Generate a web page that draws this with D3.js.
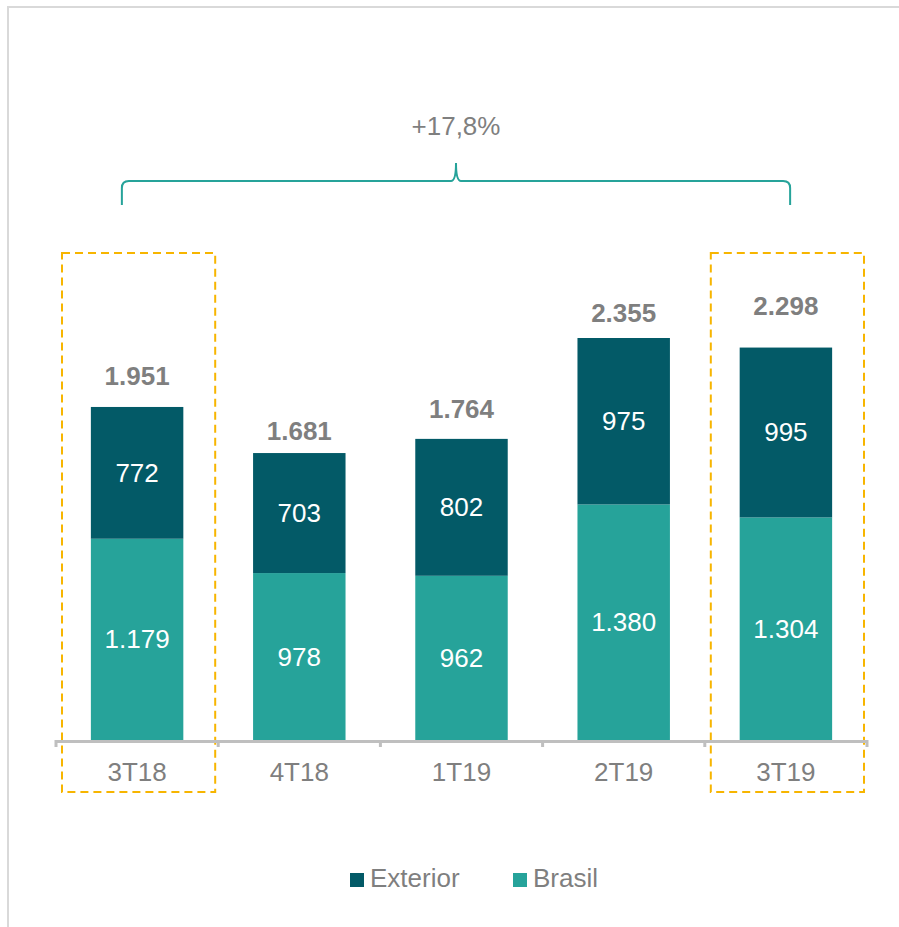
<!DOCTYPE html>
<html>
<head>
<meta charset="utf-8">
<script src="https://cdn.jsdelivr.net/npm/d3@7"></script>
<style>
  body { margin: 0; background: #fff; }
  svg { display: block; font-family: "Liberation Sans", Arial, sans-serif; }
</style>
</head>
<body>
<div id="chart"></div>
<script>
// chart data
var quarters = ["3T18", "4T18", "1T19", "2T19", "3T19"];
var brasil = [1179, 978, 962, 1380, 1304];
var exterior = [772, 703, 802, 975, 995];
var totals = [1951, 1681, 1764, 2355, 2298];
var highlighted = ["3T18", "3T19"];
var growthLabel = "+17,8%";

// total labels were placed by hand in the original, gap above each bar
var totalGap = [22, 13, 21, 16, 33];

var svgWidth = 899;
var svgHeight = 927;

var colorExterior = "#035a67";
var colorBrasil = "#26a39a";
var gray = "#7f7f7f";

var svg = d3.select("#chart")
  .append("svg")
  .attr("width", svgWidth)
  .attr("height", svgHeight);

// light frame
svg.append("path")
  .attr("d", "M8,927 L8,7 L899,7")
  .attr("fill", "none")
  .attr("stroke", "#d9d9d9")
  .attr("stroke-width", 2);

var baseY = 740;

var x = d3.scaleBand()
  .domain(quarters)
  .range([56, 867])
  .paddingInner(0.43)
  .paddingOuter(0.215);

var y = d3.scaleLinear()
  .domain([0, 2355])
  .range([baseY, baseY - 402]);

var fmt = function(v) {
  return d3.format(",")(v).replace(/,/g, ".");
};

var rows = quarters.map(function(q, i) {
  return { q: q, brasil: brasil[i], exterior: exterior[i], total: totals[i], gap: totalGap[i] };
});

var step = x.step();
var bandStart = function(q) { return x(q) - x.paddingInner() * step / 2; };

// dashed highlight boxes
svg.selectAll(".hl")
  .data(highlighted)
  .enter()
  .append("rect")
  .attr("class", "hl")
  .attr("x", d => bandStart(d) + 6)
  .attr("y", 253)
  .attr("width", step - 9)
  .attr("height", 539)
  .attr("fill", "none")
  .attr("stroke", "#f7b500")
  .attr("stroke-width", 2)
  .attr("stroke-dasharray", "8,5");

// Brasil segment
svg.selectAll(".brasil")
  .data(rows)
  .enter()
  .append("rect")
  .attr("class", "brasil")
  .attr("x", d => x(d.q))
  .attr("y", d => y(d.brasil))
  .attr("width", x.bandwidth())
  .attr("height", d => baseY - y(d.brasil))
  .attr("fill", colorBrasil);

// Exterior segment
svg.selectAll(".exterior")
  .data(rows)
  .enter()
  .append("rect")
  .attr("class", "exterior")
  .attr("x", d => x(d.q))
  .attr("y", d => y(d.brasil + d.exterior))
  .attr("width", x.bandwidth())
  .attr("height", d => y(d.brasil) - y(d.brasil + d.exterior))
  .attr("fill", colorExterior);

// values inside bars
svg.selectAll(".lblB")
  .data(rows)
  .enter()
  .append("text")
  .attr("x", d => x(d.q) + x.bandwidth() / 2)
  .attr("y", d => (baseY + y(d.brasil)) / 2 + 9)
  .attr("text-anchor", "middle")
  .attr("fill", "#fff")
  .style("font-size", "26px")
  .text(d => fmt(d.brasil));

svg.selectAll(".lblE")
  .data(rows)
  .enter()
  .append("text")
  .attr("x", d => x(d.q) + x.bandwidth() / 2)
  .attr("y", d => (y(d.brasil) + y(d.brasil + d.exterior)) / 2 + 9)
  .attr("text-anchor", "middle")
  .attr("fill", "#fff")
  .style("font-size", "26px")
  .text(d => fmt(d.exterior));

// totals
svg.selectAll(".lblT")
  .data(rows)
  .enter()
  .append("text")
  .attr("x", d => x(d.q) + x.bandwidth() / 2)
  .attr("y", d => y(d.total) - d.gap)
  .attr("text-anchor", "middle")
  .attr("fill", gray)
  .style("font-size", "26px")
  .style("font-weight", "bold")
  .text(d => fmt(d.total));

// x axis
var axis = svg.append("g");
axis.append("line")
  .attr("x1", 55).attr("x2", 868)
  .attr("y1", baseY + 1.5).attr("y2", baseY + 1.5)
  .attr("stroke", "#bfbfbf")
  .attr("stroke-width", 3);

var tickXs = quarters.map(bandStart).concat([bandStart(quarters[quarters.length - 1]) + step]);
axis.selectAll(".tick")
  .data(tickXs)
  .enter()
  .append("line")
  .attr("x1", d => d).attr("x2", d => d)
  .attr("y1", baseY).attr("y2", baseY + 7)
  .attr("stroke", "#bfbfbf")
  .attr("stroke-width", 3);

axis.selectAll(".cat")
  .data(quarters)
  .enter()
  .append("text")
  .attr("x", d => x(d) + x.bandwidth() / 2)
  .attr("y", 781)
  .attr("text-anchor", "middle")
  .attr("fill", gray)
  .style("font-size", "26px")
  .text(d => d);

// growth brace
var bx1 = x(quarters[0]) + 31, bx2 = x(quarters[4]) + x.bandwidth() - 42;
var bmid = (bx1 + bx2) / 2;
var by = 181;
svg.append("path")
  .attr("d", `M${bx1},205 L${bx1},188 Q${bx1},${by} ${bx1 + 7},${by} L${bmid - 5},${by} Q${bmid},${by} ${bmid},163 Q${bmid},${by} ${bmid + 5},${by} L${bx2 - 7},${by} Q${bx2},${by} ${bx2},188 L${bx2},205`)
  .attr("fill", "none")
  .attr("stroke", "#26a39a")
  .attr("stroke-width", 2);

svg.append("text")
  .attr("x", bmid)
  .attr("y", 135)
  .attr("text-anchor", "middle")
  .attr("fill", gray)
  .style("font-size", "26px")
  .text(growthLabel);

// legend
var legendItems = [
  { name: "Exterior", color: colorExterior, x: 350 },
  { name: "Brasil", color: colorBrasil, x: 513 }
];
var legend = svg.selectAll(".legend")
  .data(legendItems)
  .enter()
  .append("g")
  .attr("transform", d => `translate(${d.x}, 873)`);
legend.append("rect")
  .attr("width", 14).attr("height", 14)
  .attr("fill", d => d.color);
legend.append("text")
  .attr("x", 20)
  .attr("y", 14)
  .attr("fill", gray)
  .style("font-size", "26px")
  .text(d => d.name);
</script>
</body>
</html>
